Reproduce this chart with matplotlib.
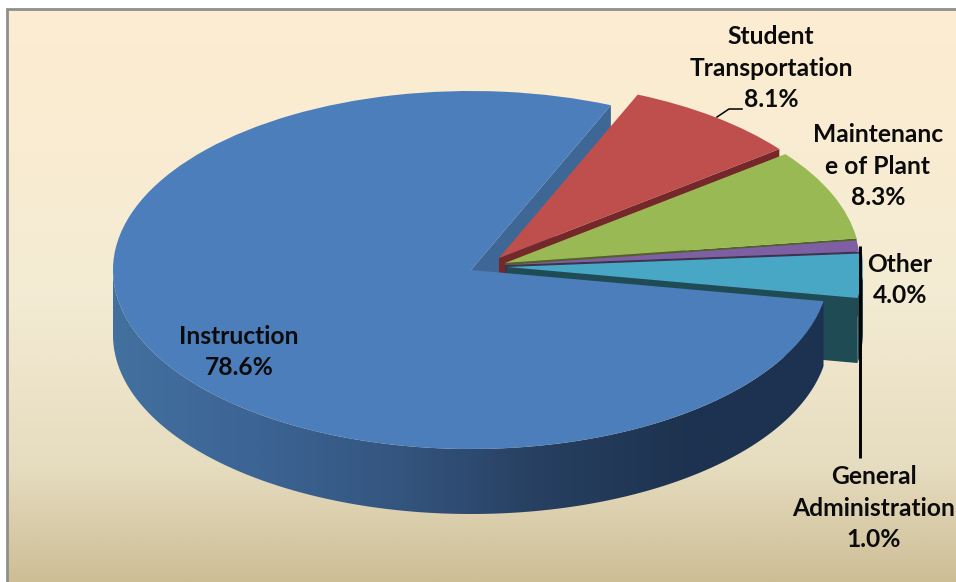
import numpy as np
import matplotlib
matplotlib.use("Agg")
import matplotlib.pyplot as plt
from matplotlib.colors import LinearSegmentedColormap
from matplotlib.patches import Polygon

# data, in clockwise drawing order from the top of the pie
categories = ["Student\nTransportation", "Maintenanc\ne of Plant", "General\nAdministration", "Other", "Instruction"]
shares = [8.1, 8.3, 1.0, 4.0, 78.6]
share_labels = ["8.1%", "8.3%", "1.0%", "4.0%", "78.6%"]

# style
top_colors = ["#BE4F4C", "#98B954", "#7F5FA3", "#47A7C4", "#4B7EBB"]
cut_colors = ["#75282A", "#4F6228", "#403152", "#1F4B55", "#3F6795"]
centers_px = [(499, 258), (505, 263), (505, 265), (507, 267), (471, 270)]
radii = [355, 355, 355, 356, 358]
zorders = [4, 6, 8, 10, 14]
label_pos = [(771, 68), (878, 166), (874, 508), (900, 280), (239, 352)]
start_angle = 67
DEPTH = 65
W, H = 956, 582
YS = 2.0  # data units per pixel vertically: makes the circle an ellipse

plt.rcParams['font.family'] = ['Lato', 'DejaVu Sans']
fig = plt.figure(figsize=(W / 100, H / 100), dpi=100, facecolor="white")
ax = fig.add_axes([0, 0, 1, 1])


def Y(py):
    return (H - py) * YS


# one pie per slice, because every slice sits at its own exploded centre
for i in range(len(shares)):
    cols = [top_colors[j] if j == i else "none" for j in range(len(shares))]
    wedges, _ = ax.pie(shares, colors=cols, startangle=start_angle, counterclock=False,
                       center=(centers_px[i][0], Y(centers_px[i][1])), radius=radii[i],
                       wedgeprops=dict(linewidth=0))
    for j, w in enumerate(wedges):
        w.set_zorder(zorders[i] if j == i else 0)
        w.set_visible(j == i)

edges = start_angle - 360 * np.cumsum([0] + shares) / sum(shares)


def rim(i, a):
    a = np.radians(a)
    cx, cy = centers_px[i]
    return cx + radii[i] * np.cos(a), Y(cy) + radii[i] * np.sin(a)


def cut_face(i, a):
    cx, cy = centers_px[i]
    x, y = rim(i, a)
    d = DEPTH * YS
    return [(cx, Y(cy)), (x, y), (x, y - d), (cx, Y(cy) - d)]


# cut faces and outer walls
for i in range(len(shares) - 1):
    ax.add_patch(Polygon(cut_face(i, edges[i + 1]), closed=True, fc=cut_colors[i], ec="none",
                         zorder=zorders[i] - 1))
# blue cut face lies behind everything
ax.add_patch(Polygon(cut_face(4, edges[5]), closed=True, fc=cut_colors[4], ec="none", zorder=2))

# teal outer wall (front part of its rim)
arc = np.linspace(0, edges[4], 40)
pts = [rim(3, a) for a in arc]
d = DEPTH * YS
ax.add_patch(Polygon(pts + [(x, y - d) for x, y in pts[::-1]], closed=True,
                     fc=cut_colors[3], ec="none", zorder=zorders[3] - 1))

# blue outer wall with a horizontal gradient, clipped to the wall outline
wall_cmap = LinearSegmentedColormap.from_list(
    "wall", ["#42709F", "#3C6494", "#34557F", "#273F60", "#1D3350", "#1C3250"])
a_vals = np.linspace(edges[4], -180, 260)
pts = [rim(4, a) for a in a_vals]
wall_outline = Polygon(pts + [(x, y - d) for x, y in pts[::-1]], closed=True, fc="none", ec="none",
                       transform=ax.transData)
ax.add_patch(wall_outline)
x0, x1 = centers_px[4][0] - radii[4], centers_px[4][0] + radii[4]
wall_img = ax.imshow(np.linspace(0, 1, 400)[None, :], cmap=wall_cmap, vmin=0, vmax=1,
                     extent=(x0, x1, Y(530), Y(260)), aspect="auto", zorder=13)
wall_img.set_clip_path(wall_outline)

# background
bg = LinearSegmentedColormap.from_list(
    "bg", [(0, "#FDEDD1"), (0.5, "#F4EBD4"), (0.8, "#E6DCBF"), (1, "#CDBE96")])
ax.imshow(np.linspace(0, 1, 400)[:, None], cmap=bg, vmin=0, vmax=1, origin="upper",
          extent=(7, W, Y(H), Y(9)), aspect="auto", zorder=-2)
ax.plot([7, 7, W], [Y(H), Y(9), Y(9)], color="#8E8E8E", lw=2, zorder=-1, solid_joinstyle="miter")

# leaders
ax.plot([860, 860], [Y(246), Y(458)], color="black", lw=2.1, zorder=20, solid_capstyle="butt")
ax.plot([717, 729, 742], [Y(117), Y(109), Y(109)], color="black", lw=1.1, zorder=20)

# labels
for name, pct, (x, y) in zip(categories, share_labels, label_pos):
    ax.text(x, Y(y), name + "\n" + pct, ha="center", va="center", fontsize=17.7,
            fontweight="bold", color="#0B0B0B", linespacing=1.43, zorder=21)

ax.set_aspect("auto")
ax.set_xlim(0, W)
ax.set_ylim(0, H * YS)
ax.axis("off")
fig.savefig("out.png", dpi=100, facecolor="white")
